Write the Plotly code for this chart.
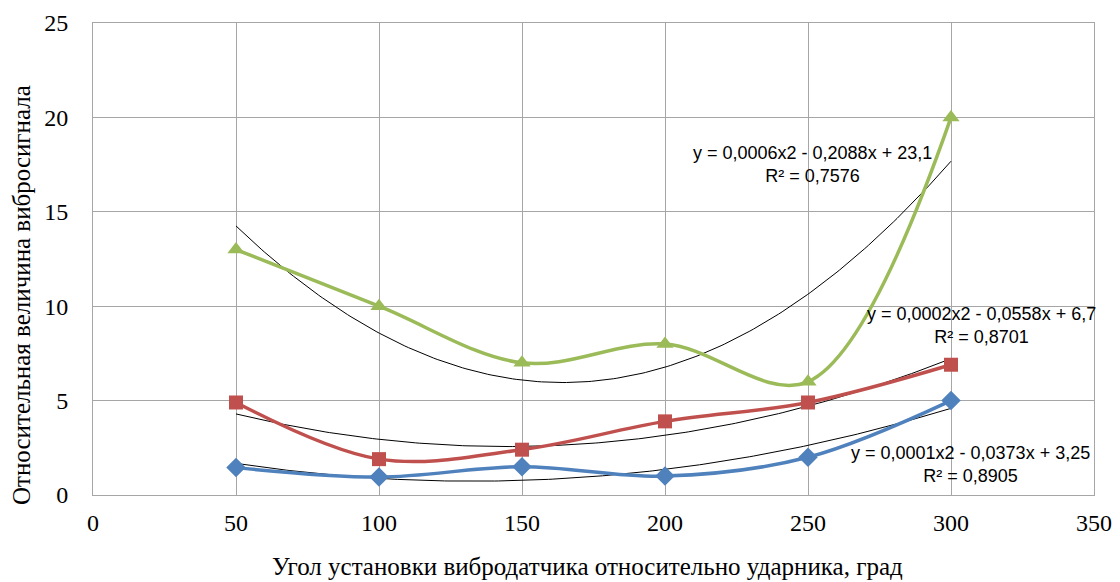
import numpy as np
import plotly.graph_objects as go

angles = [50, 100, 150, 200, 250, 300]
blue_vals = [1.45, 0.95, 1.5, 1.0, 2.0, 5.0]
red_vals = [4.9, 1.9, 2.4, 3.9, 4.9, 6.9]
green_vals = [13.0, 10.0, 7.0, 8.0, 6.0, 20.0]

x_ticks = [0, 50, 100, 150, 200, 250, 300, 350]
y_ticks = [0, 5, 10, 15, 20, 25]

eq_green = "y = 0,0006x2 - 0,2088x + 23,1<br>R² = 0,7576"
eq_red = "y = 0,0002x2 - 0,0558x + 6,7<br>R² = 0,8701"
eq_blue = "y = 0,0001x2 - 0,0373x + 3,25<br>R² = 0,8905"

x_title = "Угол установки вибродатчика относительно ударника, град"
y_title = "Относительная величина вибросигнала"

fig = go.Figure()

xs = np.linspace(min(angles), max(angles), 200)
for vals in (blue_vals, red_vals, green_vals):
    c = np.polyfit(angles, vals, 2)
    fig.add_trace(go.Scatter(x=xs, y=np.polyval(c, xs), mode="lines",
                             line=dict(color="black", width=1), showlegend=False,
                             hoverinfo="skip"))

series = [
    (blue_vals, "#4F81BD", "diamond", 15),
    (red_vals, "#C0504D", "square", 14),
    (green_vals, "#9BBB59", "triangle-up", 15),
]
for vals, col, sym, sz in series:
    fig.add_trace(go.Scatter(x=angles, y=vals, mode="lines+markers",
                             line=dict(color=col, width=3.5, shape="spline", smoothing=1.0),
                             marker=dict(symbol=sym, size=sz, color=col),
                             showlegend=False))

# window pixel geometry of the plot area (figure is drawn at offset 8,8)
X0, X1, YT, YB = 93, 1094, 23, 495


def px(xp):
    return (xp - X0) / (X1 - X0)


def py(yp):
    return (YB - yp) / (YB - YT)


ann_font = dict(family="Liberation Sans", size=18, color="black")
for txt, xp, yp in [(eq_green, 812, 164), (eq_red, 981, 325), (eq_blue, 970, 464)]:
    fig.add_annotation(x=px(xp), y=py(yp), xref="paper", yref="paper", text=txt,
                       showarrow=False, font=ann_font, align="center",
                       xanchor="center", yanchor="middle")

title_font = dict(family="Liberation Serif", size=25, color="black")
fig.add_annotation(x=px(587), y=py(566), xref="paper", yref="paper", text=x_title,
                   showarrow=False, font=title_font, xanchor="center", yanchor="middle")
fig.add_annotation(x=px(21), y=py(295), xref="paper", yref="paper", text=y_title,
                   showarrow=False, font=title_font, textangle=-90,
                   xanchor="center", yanchor="middle")

axis_common = dict(showgrid=True, gridcolor="#A6A6A6", gridwidth=1,
                   showline=True, linecolor="#A6A6A6", linewidth=1, mirror=True,
                   zeroline=False, ticks="", automargin=False,
                   tickfont=dict(family="Liberation Serif", size=24, color="black"))

fig.update_xaxes(range=[0, 350], tickvals=x_ticks, ticklabelstandoff=6, **axis_common)
fig.update_yaxes(range=[0, 25], tickvals=y_ticks, ticklabelstandoff=19, **axis_common)

W, H = 1112, 574
fig.update_layout(width=W, height=H, plot_bgcolor="white", paper_bgcolor="white",
                  margin=dict(l=X0 - 8, r=W - (X1 - 8), t=YT - 8, b=H - (YB - 8)),
                  showlegend=False)

fig.write_html("out.html")
